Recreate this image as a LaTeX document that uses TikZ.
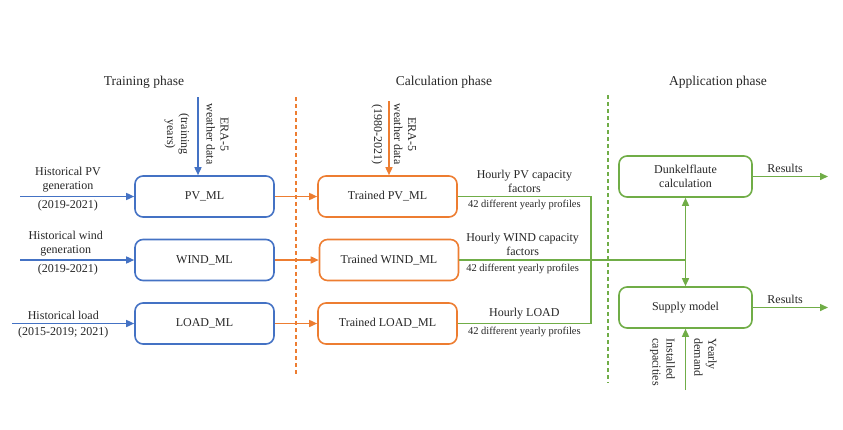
\documentclass[tikz,border=0pt]{standalone}
\usepackage{fontspec}
\setmainfont{Liberation Serif}
\usetikzlibrary{arrows.meta}
\definecolor{mlblue}{HTML}{4472C4}
\definecolor{mlorange}{HTML}{ED7D31}
\definecolor{mlgreen}{HTML}{70AD47}
\begin{document}
\begin{tikzpicture}[x=1pt, y=-1pt, font=\fontsize{12}{14}\selectfont,
    every node/.style = {text=black!85},
    box/.style = {shape=rectangle, rounded corners=8pt, draw, line width=1.6pt, align=center,
                  minimum width=139pt, minimum height=41pt},
    flow/.style = {line width=1.5pt},
    arr/.style = {flow, -{Triangle[length=8pt,width=7pt]}},
    phase/.style = {font=\fontsize{13.5}{16}\selectfont},
    small/.style = {font=\fontsize{10.5}{12}\selectfont},
    turned/.style = {rotate=-90, align=center},
    border/.style = {line width=1.4pt, dash pattern=on 4pt off 3pt}]
    \useasboundingbox (0,0) rectangle (843,429);

    \node[phase] (tphase) at (144,82) {Training phase};
    \node[phase] (cphase) at (444,82) {Calculation phase};
    \node[phase] (aphase) at (718,82) {Application phase};

    \draw[border, mlorange] (296,97) coordinate (otop) -- (296,376) coordinate (obot);
    \draw[border, mlgreen] (608,95) coordinate (gtop) -- (608,383) coordinate (gbot);

    \node[box, draw=mlblue] (pv) at (204.5,196.5) {PV\_ML};
    \node[box, draw=mlblue] (wind) at (204.5,260) {WIND\_ML};
    \node[box, draw=mlblue] (load) at (204.5,323.5) {LOAD\_ML};

    \node[box, draw=mlorange] (tpv) at (387.5,196.5) {Trained PV\_ML};
    \node[box, draw=mlorange] (twind) at (389,260) {Trained WIND\_ML};
    \node[box, draw=mlorange] (tload) at (387.5,323.5) {Trained LOAD\_ML};

    \node[box, draw=mlgreen, minimum width=133pt] (dunkel) at (685.5,176.5) {Dunkelflaute\\calculation};
    \node[box, draw=mlgreen, minimum width=133pt] (supply) at (685.5,307.5) {Supply model};

    \coordinate (pvin) at (20,196.5);
    \coordinate (windin) at (20,260);
    \coordinate (loadin) at (12,323.5);
    \draw[arr, mlblue] (pvin) -- node[pos=0.42, above, align=center] {Historical PV\\generation}
        node[pos=0.42, below] {(2019-2021)} (pv);
    \draw[arr, mlblue] (windin) -- node[pos=0.4, above, align=center] {Historical wind\\generation}
        node[pos=0.42, below] {(2019-2021)} (wind);
    \draw[arr, mlblue] (loadin) -- node[pos=0.42, above] {Historical load}
        node[pos=0.42, below] {(2015-2019; 2021)} (load);

    \coordinate (era) at (198,97);
    \draw[arr, mlblue] (era) -- (era |- pv.north);
    \node[turned] (eratxt) at (217.5,134) {ERA-5\\weather data};
    \node[turned] (eratrain) at (177,134) {(training\\years)};

    \coordinate (eracalc) at (389,101);
    \draw[arr, mlorange] (eracalc) -- (eracalc |- tpv.north);
    \node[turned] (eracalctxt) at (405,134) {ERA-5\\weather data};
    \node[turned] (eracalcyrs) at (377,134) {(1980-2021)};

    \draw[arr, mlorange] (pv) -- (tpv);
    \draw[arr, mlorange] (wind) -- (twind);
    \draw[arr, mlorange] (load) -- (tload);

    \coordinate (bustop) at (591,196.5);
    \coordinate (busbot) at (591,323.5);
    \coordinate (split) at (dunkel.south |- twind.east);
    \draw[flow, mlgreen] (tpv) -- node[above, align=center] {Hourly PV capacity\\factors}
        node[below, small] {42 different yearly profiles} (bustop) -- (busbot);
    \draw[flow, mlgreen] (tload) -- node[above] {Hourly LOAD}
        node[below, small] {42 different yearly profiles} (busbot);
    \draw[flow, mlgreen] (twind) -- node[pos=0.28, above, align=center] {Hourly WIND capacity\\factors}
        node[pos=0.28, below, small] {42 different yearly profiles} (split);
    \draw[arr, mlgreen] (split) -- (dunkel);
    \draw[arr, mlgreen] (split) -- (supply);

    \coordinate (res1) at (828,176.5);
    \coordinate (res2) at (828,307.5);
    \draw[arr, mlgreen] (dunkel) -- node[pos=0.43, above] {Results} (res1);
    \draw[arr, mlgreen] (supply) -- node[pos=0.43, above] {Results} (res2);

    \coordinate (demand) at (685.5,390);
    \draw[arr, mlgreen] (demand) -- (supply);
    \node[rotate=-90, anchor=west, align=left] (yearly) at (705.5,335) {Yearly\\demand};
    \node[rotate=-90, anchor=west, align=left] (instcap) at (662.5,335) {Installed\\capacities};
\end{tikzpicture}
\end{document}
